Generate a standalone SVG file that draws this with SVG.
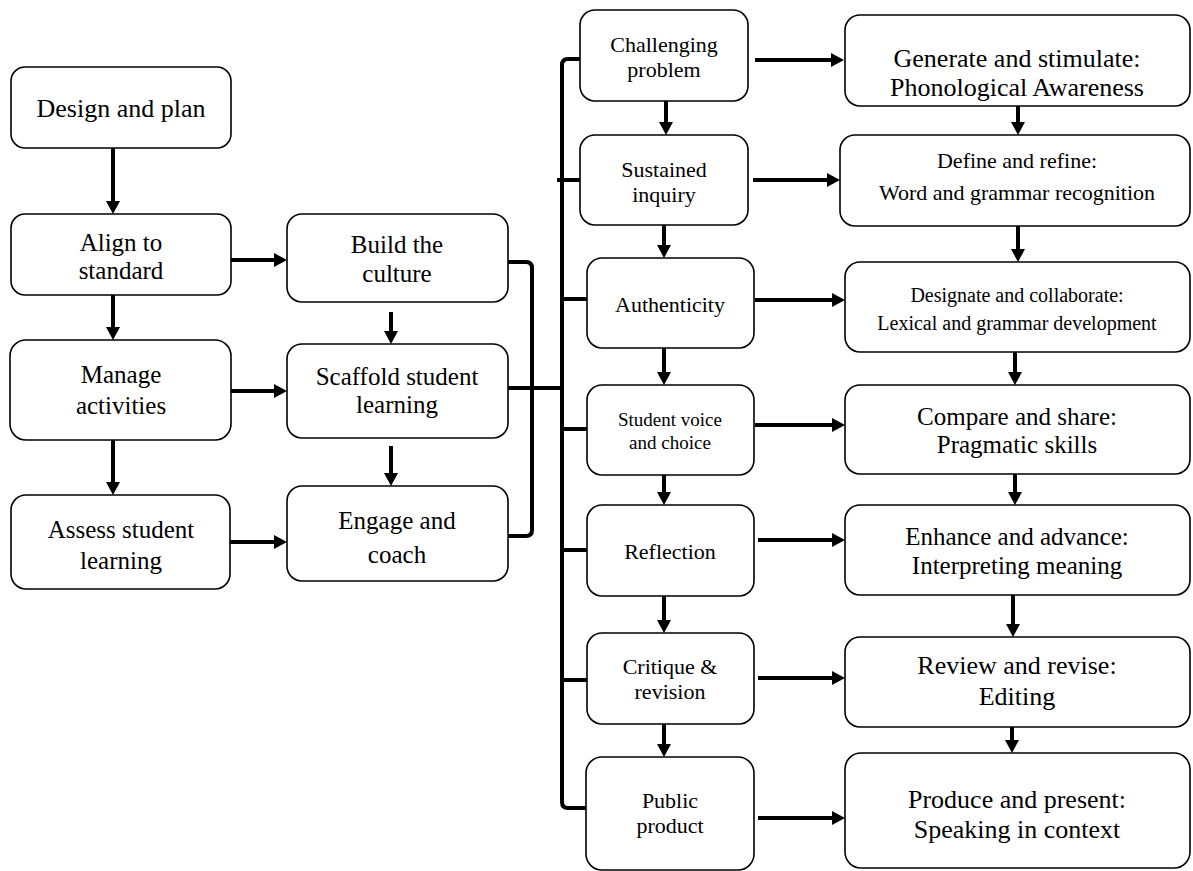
<svg xmlns="http://www.w3.org/2000/svg" width="1193" height="871" viewBox="0 0 1193 871" font-family="Liberation Serif, Times New Roman, serif">
<style>
.box{fill:#fff;stroke:#000;stroke-width:1.6}
text{fill:#000;text-anchor:middle}
.s26{font-size:26px}
.s25{font-size:25px}
.s22{font-size:22px}
.s20{font-size:20px}
.s19{font-size:19px}
.ar{stroke:#000;stroke-width:4;fill:none;marker-end:url(#ah)}
.ln{stroke:#000;stroke-width:4;fill:none;stroke-linejoin:round}
</style>
<defs>
<marker id="ah" markerUnits="userSpaceOnUse" markerWidth="14" markerHeight="14" refX="4" refY="7" orient="auto">
<path d="M0,0 L13,7 L0,14 z" fill="#000"/>
</marker>
</defs>
<rect width="1193" height="871" fill="#fff"/>

<g id="connectors">
<line class="ar" x1="113" y1="148" x2="113" y2="205"/>
<line class="ar" x1="113" y1="295" x2="113" y2="331"/>
<line class="ar" x1="113" y1="440" x2="113" y2="486"/>
<line class="ar" x1="231" y1="260" x2="278" y2="260"/>
<line class="ar" x1="228" y1="391" x2="278" y2="391"/>
<line class="ar" x1="230" y1="542" x2="278" y2="542"/>
<line class="ar" x1="391" y1="312" x2="391" y2="335"/>
<line class="ar" x1="391" y1="446" x2="391" y2="477"/>
<path class="ln" d="M508,262 H526 Q532,262 532,268 V530 Q532,536 526,536 H508"/>
<line class="ln" x1="508" y1="388" x2="562" y2="388"/>
<path class="ln" d="M586,59 H568 Q562,59 562,65 V802 Q562,808 568,808 H588"/>
<line class="ln" x1="557" y1="180" x2="582" y2="180"/>
<line class="ln" x1="562" y1="299" x2="588" y2="299"/>
<line class="ln" x1="562" y1="429" x2="588" y2="429"/>
<line class="ln" x1="562" y1="550" x2="588" y2="550"/>
<line class="ln" x1="562" y1="680" x2="588" y2="680"/>
<line class="ar" x1="666" y1="101" x2="666" y2="126"/>
<line class="ar" x1="664" y1="225" x2="664" y2="249"/>
<line class="ar" x1="664" y1="348" x2="664" y2="376"/>
<line class="ar" x1="664" y1="475" x2="664" y2="496"/>
<line class="ar" x1="664" y1="596" x2="664" y2="624"/>
<line class="ar" x1="664" y1="724" x2="664" y2="748"/>
<line class="ar" x1="755" y1="60" x2="835" y2="60"/>
<line class="ar" x1="753" y1="180" x2="831" y2="180"/>
<line class="ar" x1="755" y1="300" x2="836" y2="300"/>
<line class="ar" x1="755" y1="425" x2="836" y2="425"/>
<line class="ar" x1="758" y1="540" x2="836" y2="540"/>
<line class="ar" x1="758" y1="678" x2="836" y2="678"/>
<line class="ar" x1="758" y1="818" x2="836" y2="818"/>
<line class="ar" x1="1018" y1="106" x2="1018" y2="126"/>
<line class="ar" x1="1018" y1="226" x2="1018" y2="253"/>
<line class="ar" x1="1015" y1="352" x2="1015" y2="376"/>
<line class="ar" x1="1015" y1="474" x2="1015" y2="496"/>
<line class="ar" x1="1013" y1="595" x2="1013" y2="628"/>
<line class="ar" x1="1012" y1="727" x2="1012" y2="744"/>
</g>

<g id="n-design"><rect class="box" x="11" y="67" width="220" height="81" rx="14"/><text class="s26" x="121" y="117">Design and plan</text></g>
<g id="n-align"><rect class="box" x="11" y="214" width="220" height="81" rx="14"/><text class="s25" x="121" y="251">Align to</text><text class="s25" x="121" y="279">standard</text></g>
<g id="n-manage"><rect class="box" x="10" y="340" width="221" height="100" rx="16"/><text class="s25" x="121" y="383">Manage</text><text class="s25" x="121" y="414">activities</text></g>
<g id="n-assess"><rect class="box" x="11" y="495" width="219" height="94" rx="15"/><text class="s25" x="121" y="538">Assess student</text><text class="s25" x="121" y="569">learning</text></g>

<g id="n-build"><rect class="box" x="287" y="214" width="221" height="88" rx="15"/><text class="s25" x="397" y="253">Build the</text><text class="s25" x="397" y="282">culture</text></g>
<g id="n-scaffold"><rect class="box" x="287" y="344" width="221" height="94" rx="15"/><text class="s25" x="397" y="385">Scaffold student</text><text class="s25" x="397" y="413">learning</text></g>
<g id="n-engage"><rect class="box" x="287" y="486" width="221" height="95" rx="15"/><text class="s25" x="397" y="529">Engage and</text><text class="s25" x="397" y="563">coach</text></g>

<g id="n-challenging"><rect class="box" x="580" y="10" width="168" height="91" rx="15"/><text class="s22" x="664" y="52">Challenging</text><text class="s22" x="664" y="77">problem</text></g>
<g id="n-sustained"><rect class="box" x="580" y="135" width="168" height="90" rx="15"/><text class="s22" x="664" y="177">Sustained</text><text class="s22" x="664" y="202">inquiry</text></g>
<g id="n-authenticity"><rect class="box" x="587" y="258" width="167" height="90" rx="15"/><text class="s22" x="670" y="312">Authenticity</text></g>
<g id="n-voice"><rect class="box" x="587" y="385" width="167" height="90" rx="15"/><text class="s19" x="670" y="426">Student voice</text><text class="s19" x="670" y="449">and choice</text></g>
<g id="n-reflection"><rect class="box" x="587" y="505" width="167" height="91" rx="15"/><text class="s22" x="670" y="559">Reflection</text></g>
<g id="n-critique"><rect class="box" x="587" y="633" width="167" height="91" rx="15"/><text class="s22" x="670" y="674">Critique &amp;</text><text class="s22" x="670" y="699">revision</text></g>
<g id="n-public"><rect class="box" x="586" y="757" width="168" height="113" rx="16"/><text class="s22" x="670" y="808">Public</text><text class="s22" x="670" y="833">product</text></g>

<g id="n-generate"><rect class="box" x="845" y="15" width="345" height="91" rx="15"/><text class="s26" x="1017" y="67">Generate and stimulate:</text><text class="s26" x="1017" y="96">Phonological Awareness</text></g>
<g id="n-define"><rect class="box" x="840" y="135" width="350" height="91" rx="15"/><text class="s22" x="1017" y="168">Define and refine:</text><text class="s22" x="1017" y="200">Word and grammar recognition</text></g>
<g id="n-designate"><rect class="box" x="845" y="262" width="345" height="90" rx="15"/><text class="s20" x="1017" y="302">Designate and collaborate:</text><text class="s20" x="1017" y="330">Lexical and grammar development</text></g>
<g id="n-compare"><rect class="box" x="845" y="385" width="345" height="89" rx="15"/><text class="s25" x="1017" y="425">Compare and share:</text><text class="s25" x="1017" y="453">Pragmatic skills</text></g>
<g id="n-enhance"><rect class="box" x="845" y="505" width="345" height="90" rx="15"/><text class="s25" x="1017" y="545">Enhance and advance:</text><text class="s25" x="1017" y="574">Interpreting meaning</text></g>
<g id="n-review"><rect class="box" x="845" y="637" width="345" height="90" rx="15"/><text class="s26" x="1017" y="674">Review and revise:</text><text class="s26" x="1017" y="705">Editing</text></g>
<g id="n-produce"><rect class="box" x="845" y="753" width="345" height="115" rx="16"/><text class="s26" x="1017" y="808">Produce and present:</text><text class="s26" x="1017" y="838">Speaking in context</text></g>
</svg>
